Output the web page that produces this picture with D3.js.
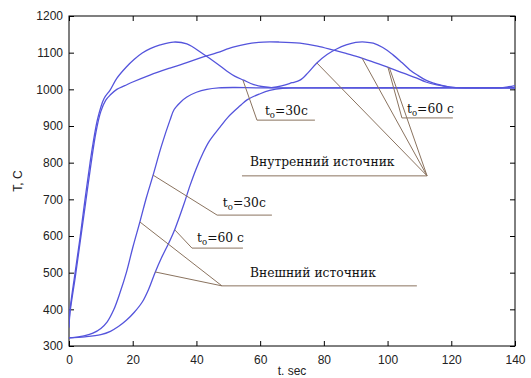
<!DOCTYPE html>
<html><head><meta charset="utf-8">
<script src="https://cdn.jsdelivr.net/npm/d3@7"></script>
<style>body{margin:0;background:#fff}
.ann{font-family:"DejaVu Serif";}
</style>
</head><body>
<svg id="c" width="531" height="378"></svg>
<script>
// ---- data ----
const xTicks = [0,20,40,60,80,100,120,140];
const yTicks = [300,400,500,600,700,800,900,1000,1100,1200];
const xLabel = "t. sec";
const yLabel = "T, C";

// internal source, t0 = 30 s
const intT30_t = [0,0.3,1.9,3.5,5,6.6,7.5,9,11,12.9,15,18,20.5,23,25.5,28.6,32.8,37,42,46.5,49.5,52,54.8,58,61,64,67,70,72.5,75,77.8,81,84,87,90,93,95.5,98.5,101.7,104.5,107,109.5,112,114.5,116.5,119.6,125,130,135,138,140];
const intT30_v = [360,398,499,597,698,799,850,920,975,998,1030,1061,1082,1099,1111,1121,1129,1124,1097,1070,1050,1036,1025,1013,1007,1005,1010,1018,1025,1045,1072,1095,1110,1121,1128,1129,1126,1114,1094,1073,1053,1038,1025,1017,1012,1006,1004,1004,1004,1007,1010];
// internal source, t0 = 60 s
const intT60_t = [0,0.3,2,3.6,5.2,6.8,8.5,10,11.5,13,15,17.5,20,25.4,31.7,36,41,46.5,51.5,56,61,66,72.5,78,83,87,91,96,100.8,105,109,112,115.5,119.6,125,130,135,140];
const intT60_v = [350,390,490,590,690,790,885,940,970,985,1000,1010,1020,1039,1058,1070,1085,1100,1115,1124,1129,1129,1126,1118,1107,1098,1088,1073,1058,1044,1031,1020,1012,1006,1004,1004,1004,1004];
// external source, t0 = 30 s
const extT30_t = [0,3,5,7.5,10,12,14,16,18,20,22.3,24.3,26.4,29,31.7,33,35,37,40,43.3,47,52,60,140];
const extT30_v = [322,325,328,335,348,366,398,445,500,568,640,705,766,845,916,945,965,979,992,1000,1004,1005,1004,1004];
// external source, t0 = 60 s
const extT60_t = [0,5,10,13,15.5,18,20.5,23,25,27,29,31.7,33.3,36,38,40,42,44,47.4,50,53.7,56,60,63,67,72,140];
const extT60_v = [322,325,331,340,353,370,392,420,455,500,540,588,620,685,738,785,825,858,897,925,955,972,988,997,1003,1004,1004];

// annotations (in data coordinates: [t, T])
const annotations = [
  {text:["t","о","=30c"], at:[61.5,930], path:[[54.6,1025],[59.0,916],[77.2,916]]},
  {text:["t","о","=60 c"], at:[106.1,935], path:[[100.1,1061],[104.5,922],[120.5,922]]},
  {text:["Внутренний источник"], at:[56.8,790], path:[[54.3,764],[112.4,764]],
   rays:[[77.8,1072],[92,1085],[100.6,1058]], hub:[112.4,764]},
  {text:["t","о","=30c"], at:[48.3,679], path:[[26.4,766],[46.5,657],[63.7,657]]},
  {text:["t","о","=60 c"], at:[40.2,584], path:[[33.3,616],[38.6,567],[54.6,567]]},
  {text:["Внешний источник"], at:[56.8,487], path:[[48,464],[109.2,464]],
   rays:[[22.3,638],[27,502]], hub:[48,464]}
];

// ---- drawing ----
const svg = d3.select("#c");
const L = 69, R = 515, T = 16, B = 346;
const x = d3.scaleLinear().domain([0,140]).range([L,R]);
const y = d3.scaleLinear().domain([300,1200]).range([B,T]);

const axFont = "'Liberation Sans', Arial, sans-serif";

// axes
const gx = svg.append("g").attr("transform",`translate(0,${B})`)
  .call(d3.axisBottom(x).tickValues(xTicks).tickSize(-5).tickPadding(9).tickFormat(d3.format("d")));
const gy = svg.append("g").attr("transform",`translate(${L},0)`)
  .call(d3.axisLeft(y).tickValues(yTicks).tickSize(-5).tickPadding(6).tickFormat(d3.format("d")));
const gxt = svg.append("g").attr("transform",`translate(0,${T})`)
  .call(d3.axisTop(x).tickValues(xTicks).tickSize(-5).tickFormat(""));
const gyr = svg.append("g").attr("transform",`translate(${R},0)`)
  .call(d3.axisRight(y).tickValues(yTicks).tickSize(-5).tickFormat(""));
[gx,gy,gxt,gyr].forEach(g=>{
  g.attr("font-family",null).attr("font-size",null);
  g.select(".domain").remove();
  g.selectAll("line").attr("stroke","#000");
  g.selectAll("text").attr("font-family",axFont).attr("font-size",12).attr("fill","#222");
});
svg.append("rect").attr("x",L).attr("y",T).attr("width",R-L).attr("height",B-T)
  .attr("fill","none").attr("stroke","#000").attr("stroke-width",1);

svg.append("text").attr("x",x(70)).attr("y",375).attr("text-anchor","middle")
  .attr("font-family",axFont).attr("font-size",12).attr("fill","#222").text(xLabel);
svg.append("text").attr("transform",`translate(22,${(T+B)/2}) rotate(-90)`)
  .attr("text-anchor","middle").attr("font-family",axFont).attr("font-size",12)
  .attr("fill","#222").text(yLabel);

// curves
const line = d3.line().x(d=>x(d[0])).y(d=>y(d[1])).curve(d3.curveCatmullRom.alpha(0.5));
const series = [
  [intT30_t,intT30_v],[intT60_t,intT60_v],[extT30_t,extT30_v],[extT60_t,extT60_v]
];
svg.append("clipPath").attr("id","pc").append("rect")
  .attr("x",L).attr("y",T).attr("width",R-L).attr("height",B-T);
series.forEach(([ts,vs])=>{
  svg.append("path").datum(ts.map((t,i)=>[t,vs[i]]))
    .attr("d",line).attr("fill","none").attr("stroke","#5454dc")
    .attr("stroke-width",1.3).attr("clip-path","url(#pc)");
});

// annotations
const lead = d3.line().x(d=>x(d[0])).y(d=>y(d[1]));
const annColor = "#8a735f";
annotations.forEach(a=>{
  svg.append("path").attr("d",lead(a.path)).attr("fill","none")
    .attr("stroke",annColor).attr("stroke-width",1);
  if(a.rays) a.rays.forEach(r=>{
    svg.append("path").attr("d",lead([r,a.hub])).attr("fill","none")
      .attr("stroke",annColor).attr("stroke-width",1);
  });
  const t = svg.append("text").attr("class","ann").attr("x",x(a.at[0])).attr("y",y(a.at[1]))
    .attr("font-size",12.3).attr("fill","#111");
  if(a.text.length===1){ t.text(a.text[0]); }
  else {
    t.append("tspan").text(a.text[0]);
    t.append("tspan").attr("dy",3).attr("font-size",8.5).text(a.text[1]);
    t.append("tspan").attr("dy",-3).text(a.text[2]);
  }
});
</script>
</body></html>
